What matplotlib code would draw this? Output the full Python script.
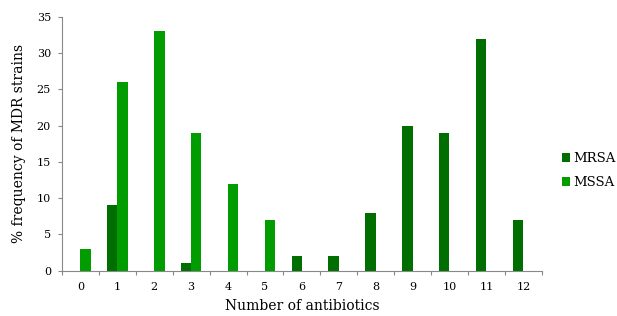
import numpy as np
import matplotlib
matplotlib.use("Agg")
import matplotlib.pyplot as plt

# data
categories = list(range(13))
mrsa = [0, 9, 0, 1, 0, 0, 2, 2, 8, 20, 19, 32, 7]
mssa = [3, 26, 33, 19, 12, 7, 0, 0, 0, 0, 0, 0, 0]

c_mrsa = "#006e00"
c_mssa = "#009c00"

plt.rcParams["font.family"] = ["DejaVu Serif"]

fig = plt.figure(figsize=(6.17, 3.16), dpi=100)
ax = fig.add_axes([0.1005, 0.1434, 0.7775, 0.8028])

x = np.array(categories)
w = 0.28
ax.bar(x - w / 2, mrsa, width=w, color=c_mrsa, label="MRSA")
ax.bar(x + w / 2, mssa, width=w, color=c_mssa, label="MSSA")

ax.set_xlim(-0.5, 12.5)
ax.set_ylim(0, 35)
ax.set_yticks(np.arange(0, 36, 5))

# tick marks at category boundaries, labels at centres
ax.set_xticks(np.arange(-0.5, 13, 1))
ax.set_xticklabels([])
ax.set_xticks(x, minor=True)
ax.set_xticklabels([str(c) for c in categories], minor=True)
ax.tick_params(axis="x", which="major", length=3, color="#888888")
ax.tick_params(axis="x", which="minor", length=0, pad=8, labelsize=8)
ax.tick_params(axis="y", length=3, color="#888888", labelsize=8, pad=5)

for s in ["top", "right"]:
    ax.spines[s].set_visible(False)
for s in ["left", "bottom"]:
    ax.spines[s].set_color("#888888")
    ax.spines[s].set_linewidth(0.8)

ax.set_xlabel("Number of antibiotics", fontsize=10, labelpad=5)
ax.set_ylabel("% frequency of MDR strains", fontsize=10, labelpad=8)

fig.legend(loc="center left", bbox_to_anchor=(0.911, 0.46), frameon=False,
           fontsize=9.5, handlelength=0.6, handleheight=0.6, handletextpad=0.25,
           labelspacing=0.85, borderpad=0, borderaxespad=0)

fig.savefig("out.png", dpi=100)
